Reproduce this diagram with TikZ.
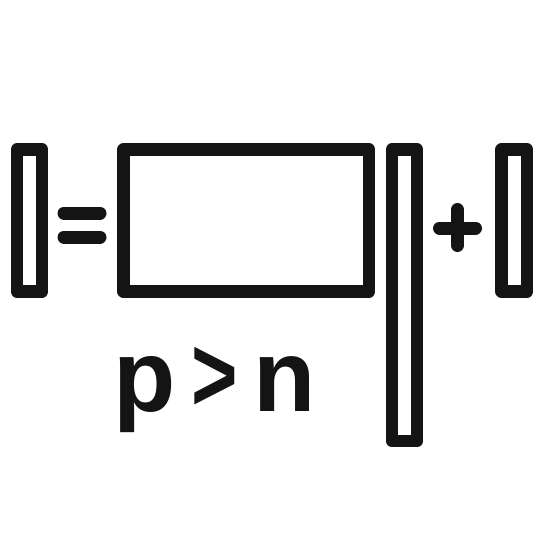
\documentclass[tikz,border=0pt]{standalone}
\usepackage{fontspec}
\usepackage{graphicx}
\setmainfont{Liberation Sans}
\begin{document}
\begin{tikzpicture}[x=1pt,y=-1pt,
  frame/.style={draw=black!92, line width=12.5pt, line join=round},
  sign/.style={draw=black!92, line width=13pt, line cap=round}]
\fill[white] (0,0) rectangle (543,543);
\useasboundingbox (0,0) rectangle (543,543);
% left thin box
\draw[frame] (17,149.5) rectangle (42,291.5);
% equals
\draw[sign] (64,213) -- (100,213);
\draw[sign] (64,237) -- (100,237);
% big box
\draw[frame] (123.5,149.5) rectangle (369,291.5);
% tall thin box
\draw[frame] (392,149.5) rectangle (417,441);
% plus
\draw[sign] (439.5,228) -- (475.5,228);
\draw[sign] (457.5,209.5) -- (457.5,245.5);
% right thin box
\draw[frame] (501.5,149.5) rectangle (527,291.5);
% label
\node[anchor=base, inner sep=0pt, text=black!92, font=\fontsize{102}{102}\selectfont\bfseries] (lbl) at (214.5,411) {p\hspace{-12.5pt} \scalebox{0.78}[1.05]{>}\hspace{-12.5pt} n};
\end{tikzpicture}
\end{document}
